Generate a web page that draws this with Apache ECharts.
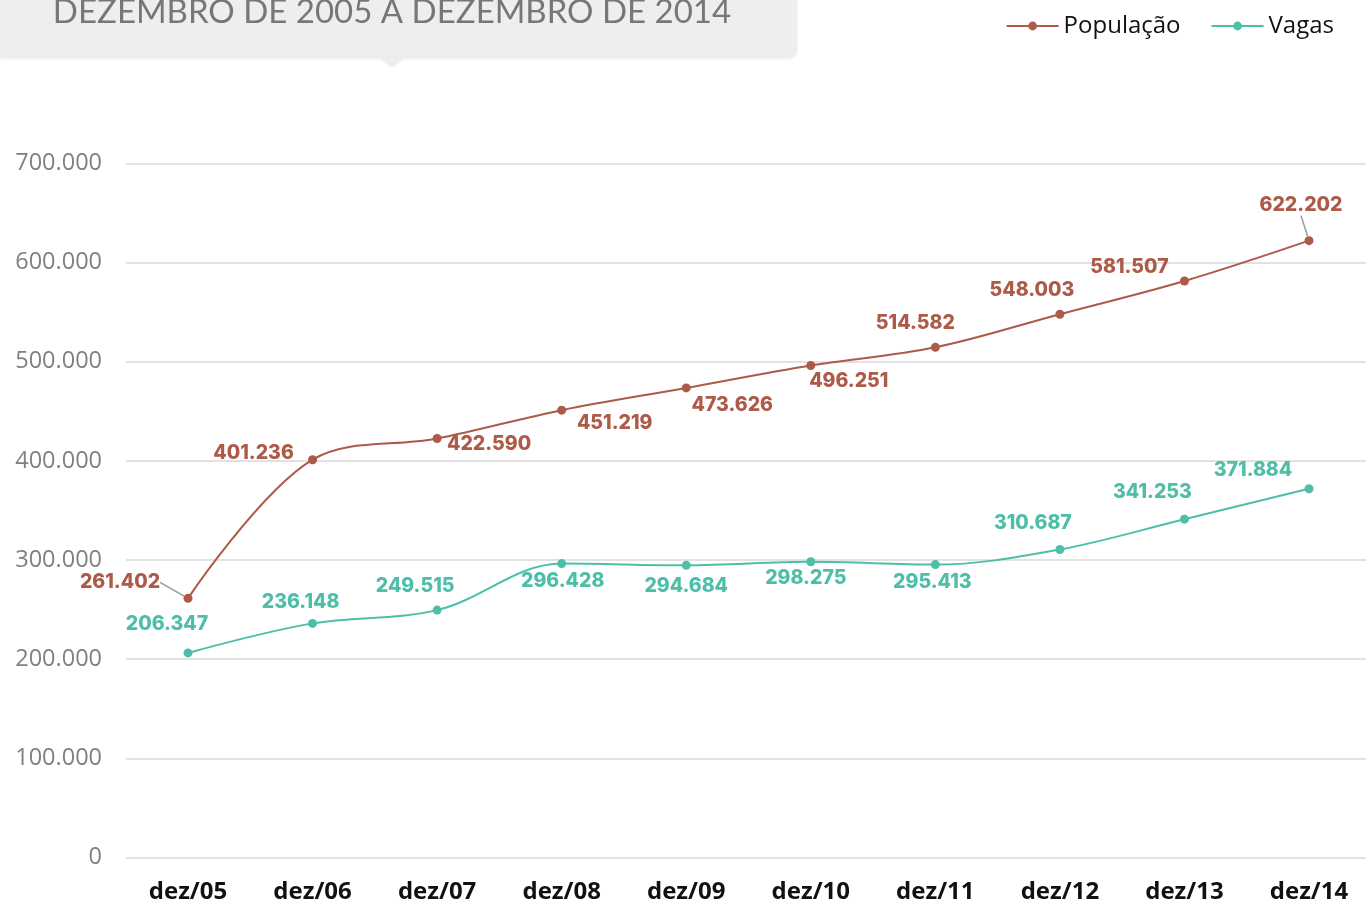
<!DOCTYPE html>
<html>
<head>
<meta charset="utf-8">
<script src="https://cdn.jsdelivr.net/npm/echarts@6/dist/echarts.min.js"></script>
<style>
  html, body { margin: 0; padding: 0; background: #fff; }
  #chart { width: 1366px; height: 907px; }
</style>
</head>
<body>
<div id="chart"></div>
<script>
// data
var categories = ['dez/05', 'dez/06', 'dez/07', 'dez/08', 'dez/09', 'dez/10', 'dez/11', 'dez/12', 'dez/13', 'dez/14'];
var populacao = [261402, 401236, 422590, 451219, 473626, 496251, 514582, 548003, 581507, 622202];
var vagas = [206347, 236148, 249515, 296428, 294684, 298275, 295413, 310687, 341253, 371884];

// where each value label sits, relative to its point
var popLabelShift = [[-68, -16], [-59, -7], [52, 6], [53, 13], [46, 17], [38, 16], [-20, -24], [-28, -24], [-55, -14], [-8, -35]];
var vagLabelShift = [[-21, -29], [-12, -21], [-22, -24], [1, 18], [0, 21], [-5, 16], [-3, 18], [-27, -26], [-32, -27], [-56, -19]];
var popLeader = [0, 9];

var red = '#ad5a48';
var teal = '#4dbfa9';

function fmt(v) {
  if (v === 0) return '0';
  var s = String(Math.round(v));
  return s.replace(/\B(?=(\d{3})+(?!\d))/g, '.');
}

var chart = echarts.init(document.getElementById('chart'));

var popData = populacao.map(function (v, i) {
  var item = { value: v };
  if (popLeader.indexOf(i) >= 0) item.labelLine = { show: true };
  return item;
});

var valueLabel = function (color) {
  return {
    show: true,
    position: 'inside',
    formatter: function (p) { return fmt(p.value); },
    fontFamily: 'Inter',
    fontWeight: 800,
    fontSize: 19.5,
    color: color
  };
};

var option = {
  animation: false,
  // grid 0: gridlines + y labels across the full width, grid 1: the data
  grid: [
    { left: 126, top: 163.5, right: 0, bottom: 49.5, outerBoundsMode: 'none' },
    { left: 188, top: 163.5, right: 57, bottom: 49.5, outerBoundsMode: 'none' }
  ],
  legend: {
    right: 27,
    top: 9,
    itemWidth: 52,
    itemHeight: 11,
    itemGap: 30,
    textStyle: { fontFamily: 'Open Sans', fontSize: 24, color: '#111' },
    data: ['População', 'Vagas']
  },
  xAxis: [
    { type: 'value', gridIndex: 0, show: false, min: 0, max: 1 },
    {
      type: 'category',
      gridIndex: 1,
      data: categories,
      boundaryGap: false,
      axisLine: { show: false },
      axisTick: { show: false },
      splitLine: { show: false },
      axisLabel: { fontFamily: 'Open Sans', fontWeight: 'bold', fontSize: 24, color: '#111', margin: 23 }
    }
  ],
  yAxis: [
    {
      type: 'value',
      gridIndex: 0,
      min: 0,
      max: 700000,
      interval: 100000,
      axisLine: { show: false },
      axisTick: { show: false },
      splitLine: { lineStyle: { color: '#d9d9d9', width: 1.5 } },
      axisLabel: { fontFamily: 'Open Sans', fontSize: 23.5, color: '#808080', margin: 24, formatter: fmt }
    },
    {
      type: 'value',
      gridIndex: 1,
      min: 0,
      max: 700000,
      interval: 100000,
      show: false,
      splitLine: { show: false }
    }
  ],
  series: [
    {
      name: 'População',
      type: 'line',
      xAxisIndex: 1,
      yAxisIndex: 1,
      smooth: 0.35,
      data: popData,
      symbol: 'circle',
      symbolSize: 9,
      itemStyle: { color: red },
      lineStyle: { color: red, width: 2 },
      label: valueLabel(red),
      labelLine: { show: false, lineStyle: { color: '#999', width: 1.5 } },
      labelLayout: function (p) {
        var s = popLabelShift[p.dataIndex];
        return { dx: s[0], dy: s[1] };
      }
    },
    {
      name: 'Vagas',
      type: 'line',
      xAxisIndex: 1,
      yAxisIndex: 1,
      smooth: 0.35,
      data: vagas,
      symbol: 'circle',
      symbolSize: 9,
      itemStyle: { color: teal },
      lineStyle: { color: teal, width: 2 },
      label: valueLabel(teal),
      labelLayout: function (p) {
        var s = vagLabelShift[p.dataIndex];
        return { dx: s[0], dy: s[1] };
      }
    }
  ],
  graphic: [
    {
      type: 'rect',
      left: 0,
      top: -10,
      z: 0,
      shape: { width: 797, height: 68, r: [0, 0, 8, 0] },
      style: { fill: '#eeeeee', shadowBlur: 3, shadowColor: 'rgba(0,0,0,0.08)', shadowOffsetY: 1 }
    },
    {
      type: 'polygon',
      z: 1,
      shape: { points: [[377, 57], [407, 57], [392, 68]] },
      style: { fill: '#eeeeee' }
    },
    {
      type: 'text',
      z: 2,
      x: 392,
      y: 12,
      style: {
        text: 'DEZEMBRO DE 2005 A DEZEMBRO DE 2014',
        fontFamily: 'Lato',
        fontWeight: 'normal',
        fontSize: 33,
        fill: '#777777',
        align: 'center',
        verticalAlign: 'middle'
      }
    }
  ]
};

chart.setOption(option);
</script>
</body>
</html>
